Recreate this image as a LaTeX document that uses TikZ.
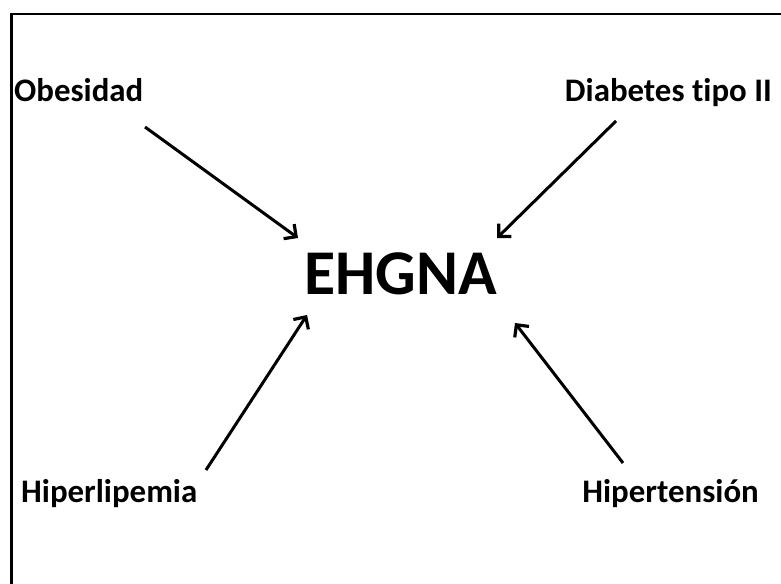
\documentclass[tikz,border=0pt]{standalone}
\usepackage{fontspec}
\setmainfont{Carlito}[Ligatures=NoCommon]
\usetikzlibrary{arrows.meta}
\begin{document}
\begin{tikzpicture}[x=1bp,y=-1bp,
  lbl/.style={font=\bfseries\fontsize{33}{40}\selectfont, inner sep=0pt},
  big/.style={font=\bfseries\fontsize{64}{72}\selectfont, inner sep=0pt},
  conn/.style={line width=3bp, -{Straight Barb[length=9bp,width=18bp,line width=3.2bp]}}]
\useasboundingbox (0,0) rectangle (781,584);
\draw[line width=2.8bp] (781,14) -- (11.5,14) -- (11.5,584);
\node[lbl, anchor=base west] (obes) at (14,102) {Obesidad};
\node[lbl, anchor=base east] (diab) at (772,102) {Diabetes tipo II};
\node[lbl, anchor=base west] (hipl) at (21,502) {Hiperlipemia};
\node[lbl, anchor=base east] (hipt) at (759,502) {Hipertensión};
\node[big, anchor=base] (ehgna) at (400.5,294) {EHGNA};
\coordinate (s1) at (145,127); \coordinate (e1) at (298,238);
\coordinate (s2) at (616,121); \coordinate (e2) at (497,238);
\coordinate (s3) at (206,470); \coordinate (e3) at (307,315);
\coordinate (s4) at (623,463); \coordinate (e4) at (515,323);
\draw[conn] (s1) -- (e1);
\draw[conn] (s2) -- (e2);
\draw[conn] (s3) -- (e3);
\draw[conn] (s4) -- (e4);
\end{tikzpicture}
\end{document}
